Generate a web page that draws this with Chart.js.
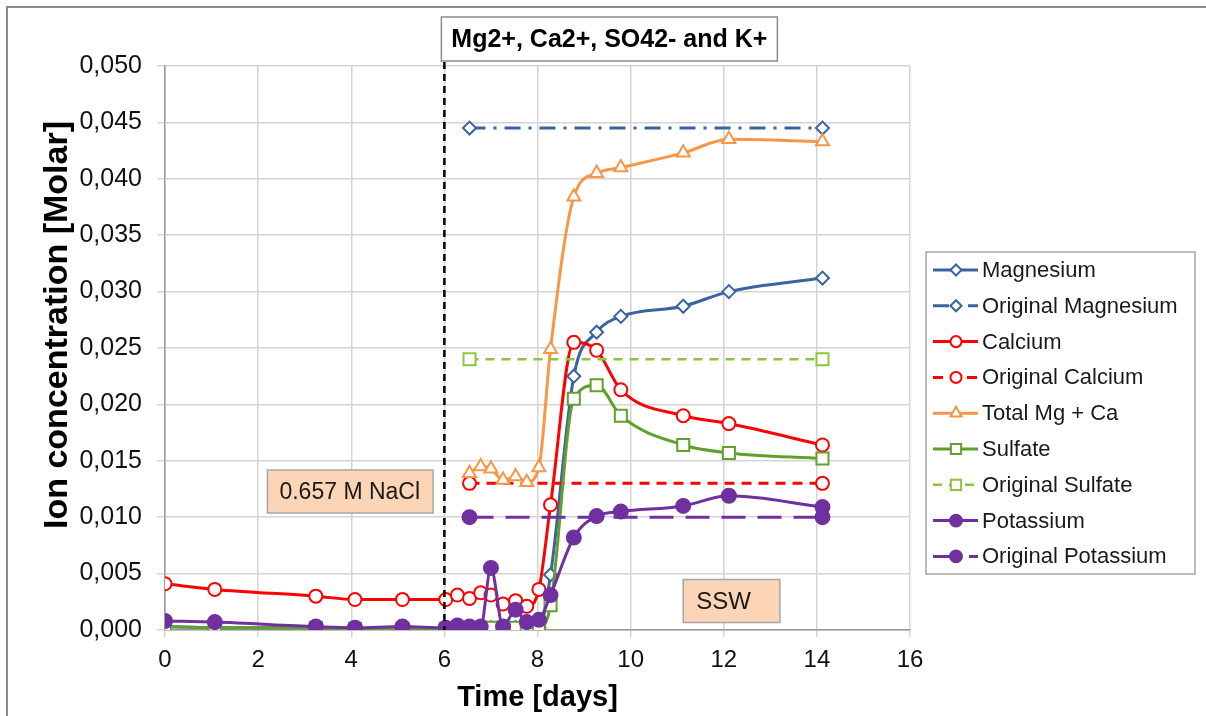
<!DOCTYPE html>
<html>
<head>
<meta charset="utf-8">
<script src="https://cdn.jsdelivr.net/npm/chart.js@4.4.1/dist/chart.umd.min.js"></script>
<style>
  html, body { margin: 0; padding: 0; background: #ffffff; }
  #wrap { position: relative; width: 1206px; height: 716px; }
</style>
</head>
<body>
<div id="wrap"><canvas id="c" width="1206" height="716"></canvas></div>
<script>
// ---- data ----
const days = [0, 1.07, 3.24, 4.08, 5.1, 6.03, 6.28, 6.54, 6.78, 7.0, 7.26, 7.53, 7.77, 8.03, 8.28, 8.78, 9.27, 9.79, 11.13, 12.11, 14.12];
const magnesium = [0.0003, 0.0002, 0.0002, 0.0001, 0.0002, 0.0001, 0.0002, 0.0002, 0.0002, 0.0002, 0.0002, 0.0002, 0.0002, 0.0002, 0.0049, 0.0225, 0.0264, 0.0278, 0.0287, 0.0300, 0.0312];
const calcium = [0.0041, 0.0036, 0.0030, 0.0027, 0.0027, 0.0027, 0.0031, 0.0028, 0.0033, 0.0031, 0.0023, 0.0026, 0.0021, 0.0036, 0.0111, 0.0255, 0.0248, 0.0213, 0.0190, 0.0183, 0.0164];
const totalMgCa = [null, null, null, null, null, null, null, 0.0139, 0.0145, 0.0143, 0.0133, 0.0136, 0.0131, 0.0144, 0.0249, 0.0384, 0.0405, 0.0410, 0.0423, 0.0435, 0.0433];
const sulfate = [0.0003, 0.0002, 0.0002, 0.0001, 0.0001, 0.0001, 0.0002, 0.0002, 0.0002, 0.0002, 0.0002, 0.0002, 0.0002, 0.0002, 0.0022, 0.0205, 0.0217, 0.0190, 0.0164, 0.0157, 0.0152];
const potassium = [0.0008, 0.0007, 0.0003, 0.0002, 0.0003, 0.0002, 0.0004, 0.0003, 0.0003, 0.0055, 0.0003, 0.0018, 0.0007, 0.0009, 0.0031, 0.0082, 0.0101, 0.0105, 0.0110, 0.0119, 0.0109];

const originalDays = [6.54, 14.12];
const originalMagnesium = [0.0445, 0.0445];
const originalCalcium = [0.0130, 0.0130];
const originalSulfate = [0.0240, 0.0240];
const originalPotassium = [0.0100, 0.0100];

const xTicks = [0, 2, 4, 6, 8, 10, 12, 14, 16];
const yTicks = [0, 0.005, 0.01, 0.015, 0.02, 0.025, 0.03, 0.035, 0.04, 0.045, 0.05];

const chartTitle = 'Mg2+, Ca2+, SO42- and K+';
const xTitle = 'Time [days]';
const yTitle = 'Ion concentration [Molar]';
const switchDay = 6;
const nacl = { text: '0.657 M NaCl', x: 2.2, y: 0.01228 };
const ssw = { text: 'SSW', x: 11.13, y: 0.00257 };

function pts(xs, ys) {
  const out = [];
  for (let i = 0; i < xs.length; i++) if (ys[i] !== null) out.push({ x: xs[i], y: ys[i] });
  return out;
}

const C = {
  mg: '#3A64A0', ca: '#FF0000', tot: '#F79646', so4: '#62A02E', so4o: '#8CC63F', k: '#7030A0'
};

const series = [
  { label: 'Magnesium', data: pts(days, magnesium), color: C.mg, style: 'rectRot', r: 6.5, fill: '#fff', dash: [], w: 3 },
  { label: 'Original Magnesium', data: pts(originalDays, originalMagnesium), color: C.mg, style: 'rectRot', r: 6.5, fill: '#fff', dash: [16, 8, 3, 8], w: 3 },
  { label: 'Calcium', data: pts(days, calcium), color: C.ca, style: 'circle', r: 6.5, fill: '#fff', dash: [], w: 3 },
  { label: 'Original Calcium', data: pts(originalDays, originalCalcium), color: C.ca, style: 'circle', r: 6.5, fill: '#fff', dash: [10, 7], w: 3 },
  { label: 'Total Mg + Ca', data: pts(days, totalMgCa), color: C.tot, style: 'triangle', r: 7.5, fill: '#fff', dash: [], w: 3 },
  { label: 'Sulfate', data: pts(days, sulfate), color: C.so4, style: 'rect', r: 8.5, fill: '#fff', dash: [], w: 3 },
  { label: 'Original Sulfate', data: pts(originalDays, originalSulfate), color: C.so4o, style: 'rect', r: 8.5, fill: '#fff', dash: [9, 7], w: 2.5 },
  { label: 'Potassium', data: pts(days, potassium), color: C.k, style: 'circle', r: 7, fill: C.k, dash: [], w: 3 },
  { label: 'Original Potassium', data: pts(originalDays, originalPotassium), color: C.k, style: 'circle', r: 7, fill: C.k, dash: [24, 12], w: 3 }
];

const datasets = series.map((s, i) => ({
  label: s.label,
  data: s.data,
  borderColor: s.color,
  backgroundColor: s.fill,
  borderWidth: s.w,
  borderDash: s.dash,
  pointStyle: s.style,
  pointRadius: s.r,
  pointBorderColor: s.color,
  pointBackgroundColor: s.fill,
  pointBorderWidth: 2,
  tension: 0.25,
  cubicInterpolationMode: 'monotone',
  fill: false,
  order: series.length - i
}));

const fontFam = '"Liberation Sans", Arial, sans-serif';

const decor = {
  id: 'decor',
  beforeDraw(chart) {
    const ctx = chart.ctx;
    ctx.save();
    ctx.fillStyle = '#ffffff';
    ctx.fillRect(0, 0, chart.width, chart.height);
    // outer frame (top and left visible)
    ctx.strokeStyle = '#8a8a8a';
    ctx.lineWidth = 2;
    ctx.beginPath();
    ctx.moveTo(7, 716); ctx.lineTo(7, 7); ctx.lineTo(1206, 7);
    ctx.stroke();
    ctx.restore();
  },
  afterDraw(chart) {
    const ctx = chart.ctx;
    ctx.save();
    // y-axis title
    ctx.translate(58, 325);
    ctx.rotate(-Math.PI / 2);
    ctx.font = 'bold 34px ' + fontFam;
    ctx.fillStyle = '#000';
    ctx.textAlign = 'center';
    ctx.textBaseline = 'middle';
    ctx.fillText(yTitle, 0, 0);
    ctx.restore();
  },
  afterDatasetsDraw(chart) {
    const ctx = chart.ctx;
    const xs = chart.scales.x, ys = chart.scales.y;
    const area = chart.chartArea;
    ctx.save();
    // boxes
    function box(b, fontPx, padL, padR) {
      ctx.font = fontPx + 'px ' + fontFam;
      const tw = ctx.measureText(b.text).width;
      const x0 = xs.getPixelForValue(b.x);
      const yc = ys.getPixelForValue(b.y);
      const w = tw + padL + padR, h = 43;
      ctx.fillStyle = '#FBD5B5';
      ctx.fillRect(x0, yc - h / 2, w, h);
      ctx.strokeStyle = '#A6A6A6';
      ctx.lineWidth = 1.5;
      ctx.strokeRect(x0, yc - h / 2, w, h);
      ctx.fillStyle = '#1a1a1a';
      ctx.textBaseline = 'middle';
      ctx.textAlign = 'left';
      ctx.fillText(b.text, x0 + padL, yc + 1);
    }
    box(nacl, 23, 12, 13);
    box(ssw, 24, 13, 29);

    // dashed switch line
    const sx = xs.getPixelForValue(switchDay);
    ctx.strokeStyle = '#000000';
    ctx.lineWidth = 2.5;
    ctx.setLineDash([7, 5]);
    ctx.beginPath();
    ctx.moveTo(sx, area.top - 4);
    ctx.lineTo(sx, area.bottom);
    ctx.stroke();
    ctx.setLineDash([]);

    // title box
    ctx.font = 'bold 25px ' + fontFam;
    const tw = ctx.measureText(chartTitle).width;
    const tx0 = sx - 3, ty0 = 17, th = 44, tbw = 336;
    ctx.fillStyle = '#ffffff';
    ctx.fillRect(tx0, ty0, tbw, th);
    ctx.strokeStyle = '#8c8c8c';
    ctx.lineWidth = 1.5;
    ctx.strokeRect(tx0, ty0, tbw, th);
    ctx.fillStyle = '#000000';
    ctx.textBaseline = 'middle';
    ctx.textAlign = 'center';
    ctx.fillText(chartTitle, tx0 + tbw / 2, ty0 + th / 2 + 1);

    // legend
    const lx = 926, ly = 252, lw = 269, lh = 322;
    ctx.fillStyle = '#ffffff';
    ctx.fillRect(lx, ly, lw, lh);
    ctx.strokeStyle = '#a6a6a6';
    ctx.lineWidth = 1.5;
    ctx.strokeRect(lx, ly, lw, lh);
    ctx.font = '22px ' + fontFam;
    series.forEach((s, i) => {
      const cy = ly + 18 + i * 35.8;
      ctx.save();
      ctx.strokeStyle = s.color;
      ctx.lineWidth = s.w;
      ctx.setLineDash(s.dash);
      ctx.beginPath();
      ctx.moveTo(933, cy);
      ctx.lineTo(978, cy);
      ctx.stroke();
      ctx.setLineDash([]);
      ctx.fillStyle = s.fill;
      ctx.strokeStyle = s.color;
      ctx.lineWidth = 2;
      Chart.helpers.drawPoint(ctx, { pointStyle: s.style, radius: s.r * 0.85, borderWidth: 2, rotation: 0 }, 956, cy);
      ctx.restore();
      ctx.fillStyle = '#1a1a1a';
      ctx.textBaseline = 'middle';
      ctx.textAlign = 'left';
      ctx.fillText(s.label, 982, cy + 1);
    });
    ctx.restore();
  }
};

new Chart(document.getElementById('c'), {
  type: 'line',
  data: { datasets },
  plugins: [decor],
  options: {
    responsive: false,
    animation: false,
    events: [],
    layout: { padding: { left: 0, top: 66, right: 296, bottom: 0 } },
    plugins: { legend: { display: false }, tooltip: { enabled: false }, title: { display: false } },
    scales: {
      x: {
        type: 'linear',
        min: 0, max: 16,
        afterBuildTicks(scale) { scale.ticks = xTicks.map(v => ({ value: v })); },
        afterFit(scale) { scale.height = 86; scale.paddingRight = 0; scale.paddingLeft = 0; },
        ticks: {
          font: { family: fontFam, size: 24 },
          color: '#111',
          padding: 9,
          maxRotation: 0,
          callback: v => String(v)
        },
        grid: { color: '#D4D4D4', lineWidth: 1.5, tickLength: 7, drawTicks: true },
        border: { color: '#9a9a9a', width: 1.5 },
        title: { display: true, text: xTitle, font: { family: fontFam, size: 29, weight: 'bold' }, color: '#000', padding: { top: 0, bottom: 1 } }
      },
      y: {
        type: 'linear',
        min: 0, max: 0.05,
        afterBuildTicks(scale) { scale.ticks = yTicks.map(v => ({ value: v })); },
        afterFit(scale) { scale.width = 165; },
        ticks: {
          font: { family: fontFam, size: 25 },
          color: '#111',
          padding: 15,
          callback: v => v.toFixed(3).replace('.', ',')
        },
        grid: { color: '#D4D4D4', lineWidth: 1.5, tickLength: 8 },
        border: { color: '#9a9a9a', width: 1.5 },
        title: { display: false }
      }
    }
  }
});
</script>
</body>
</html>
